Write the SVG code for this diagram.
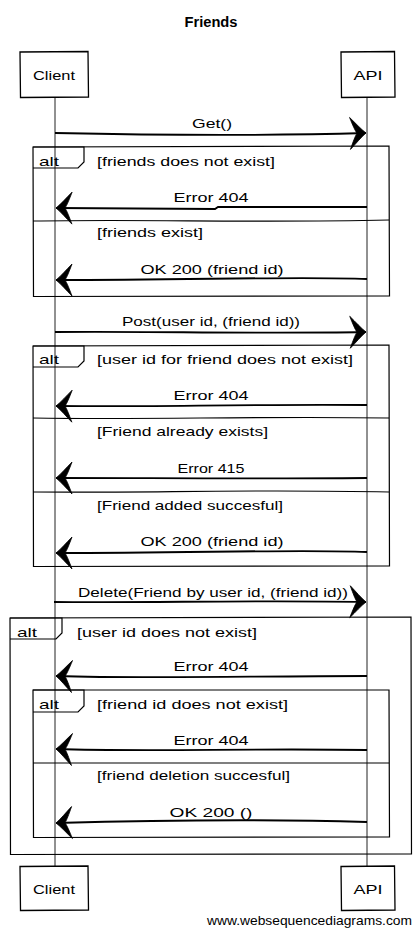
<svg xmlns="http://www.w3.org/2000/svg" width="420" height="934" viewBox="0 0 420 934">
<style>
.bg{fill:#fff}
.box{fill:#fff;stroke:#000;stroke-width:1.3}
.frame{fill:none;stroke:#000;stroke-width:1.2}
.life{stroke:#222;stroke-width:1}
.msg{fill:none;stroke:#000;stroke-width:1.8}
.t{font-family:"Liberation Sans",Arial,sans-serif;font-size:13px;fill:#000}
.c{text-anchor:middle}
.title{font-family:"Liberation Sans",Arial,sans-serif;font-size:14px;font-weight:bold;text-anchor:middle}
.wm{font-family:"Liberation Sans",Arial,sans-serif;font-size:13px;fill:#000}
</style>
<defs>
<marker id="ah" markerUnits="userSpaceOnUse" viewBox="-18 -17 19 34" markerWidth="19" markerHeight="34" refX="0" refY="0" orient="auto" overflow="visible">
<path d="M0,0 C-5,-4 -10,-10 -16,-16 C-13,-8 -11,-3 -9,0 C-11,3 -13,8 -16,16 C-10,10 -5,4 0,0 Z" fill="#000" stroke="#000" stroke-width="0.8"/>
</marker>
</defs>
<rect class="bg" x="0" y="0" width="420" height="934"/>
<text class="title" x="211" y="27" textLength="53" lengthAdjust="spacingAndGlyphs">Friends</text>

<g id="lifelines">
<line class="life" x1="55" y1="97" x2="55" y2="866"/>
<line class="life" x1="367" y1="97" x2="367" y2="866"/>
</g>

<g id="client-top">
<path class="box" d="M20,52 L88,51.5 L88.5,97 L20.5,97.5 Z"/>
<text class="t c" x="54" y="80" textLength="42" lengthAdjust="spacingAndGlyphs">Client</text>
</g>
<g id="api-top">
<path class="box" d="M341,52 L394.5,51.5 L395,97 L341.5,97.5 Z"/>
<text class="t c" x="368" y="80" textLength="29" lengthAdjust="spacingAndGlyphs">API</text>
</g>
<g id="client-bottom">
<path class="box" d="M20,866.5 L88,866 L88.5,910 L20.5,910.5 Z"/>
<text class="t c" x="54" y="894" textLength="42" lengthAdjust="spacingAndGlyphs">Client</text>
</g>
<g id="api-bottom">
<path class="box" d="M341,866.5 L394.5,866 L395,910 L341.5,910.5 Z"/>
<text class="t c" x="368" y="894" textLength="29" lengthAdjust="spacingAndGlyphs">API</text>
</g>

<g id="alt1">
<path class="frame" d="M33,147 L389,146 L389.5,296 L33.5,296.5 Z"/>
<path class="frame" d="M33,147 L84,147 L84,162 L78,168 L33,168"/>
<text class="t" x="39" y="166" textLength="20" lengthAdjust="spacingAndGlyphs">alt</text>
<text class="t" x="97" y="166" textLength="178" lengthAdjust="spacingAndGlyphs">[friends does not exist]</text>
<path class="frame" d="M33,221 C150,219 250,223 389,220"/>
<text class="t" x="97" y="237" textLength="106" lengthAdjust="spacingAndGlyphs">[friends exist]</text>
</g>

<g id="alt2">
<path class="frame" d="M33,346 L389,345 L389.5,566 L33.5,566.5 Z"/>
<path class="frame" d="M33,346 L84,346 L84,361 L78,367 L33,367"/>
<text class="t" x="39" y="364" textLength="20" lengthAdjust="spacingAndGlyphs">alt</text>
<text class="t" x="97" y="364" textLength="256" lengthAdjust="spacingAndGlyphs">[user id for friend does not exist]</text>
<path class="frame" d="M33,418 C150,420 250,416 389,418"/>
<text class="t" x="97" y="436" textLength="171" lengthAdjust="spacingAndGlyphs">[Friend already exists]</text>
<path class="frame" d="M33,492 C150,493 250,489 389,492"/>
<text class="t" x="97" y="510" textLength="186" lengthAdjust="spacingAndGlyphs">[Friend added succesful]</text>
</g>

<g id="alt3">
<path class="frame" d="M10,618 L411,617 L411.5,854 L10.5,854.5 Z"/>
<path class="frame" d="M10,618 L62,618 L62,633 L56,639 L10,639"/>
<text class="t" x="17" y="637" textLength="20" lengthAdjust="spacingAndGlyphs">alt</text>
<text class="t" x="77" y="637" textLength="180" lengthAdjust="spacingAndGlyphs">[user id does not exist]</text>
</g>

<g id="alt4">
<path class="frame" d="M33,690 L389,690 L389.5,837 L33.5,837.5 Z"/>
<path class="frame" d="M33,690 L84,690 L84,706 L78,712 L33,712"/>
<text class="t" x="39" y="709" textLength="20" lengthAdjust="spacingAndGlyphs">alt</text>
<text class="t" x="97" y="709" textLength="191" lengthAdjust="spacingAndGlyphs">[friend id does not exist]</text>
<path class="frame" d="M33,763 L389,763"/>
<text class="t" x="97" y="780" textLength="193" lengthAdjust="spacingAndGlyphs">[friend deletion succesful]</text>
</g>

<g id="connectors">
<path class="msg" marker-end="url(#ah)" d="M55,133 C150,135 260,136 366,133"/>
<text class="t c" x="212" y="128" textLength="40" lengthAdjust="spacingAndGlyphs">Get()</text>

<path class="msg" marker-end="url(#ah)" d="M367,207 L218,207 L215,209 L56,208"/>
<text class="t c" x="211" y="202" textLength="75" lengthAdjust="spacingAndGlyphs">Error 404</text>

<path class="msg" marker-end="url(#ah)" d="M367,279 C300,276 200,280 56,280"/>
<text class="t c" x="212" y="274" textLength="143" lengthAdjust="spacingAndGlyphs">OK 200 (friend id)</text>

<path class="msg" marker-end="url(#ah)" d="M55,332 C150,331 250,334 366,332"/>
<text class="t c" x="211" y="326" textLength="178" lengthAdjust="spacingAndGlyphs">Post(user id, (friend id))</text>

<path class="msg" marker-end="url(#ah)" d="M367,405 C250,404 150,407 56,406"/>
<text class="t c" x="211" y="400" textLength="75" lengthAdjust="spacingAndGlyphs">Error 404</text>

<path class="msg" marker-end="url(#ah)" d="M367,478 C250,479 150,478 56,478"/>
<text class="t c" x="211" y="473" textLength="67" lengthAdjust="spacingAndGlyphs">Error 415</text>

<path class="msg" marker-end="url(#ah)" d="M367,552 C300,549 200,553 56,553"/>
<text class="t c" x="212" y="546" textLength="143" lengthAdjust="spacingAndGlyphs">OK 200 (friend id)</text>

<path class="msg" marker-end="url(#ah)" d="M54,602 C150,603 250,600 366,602"/>
<text class="t c" x="213" y="597" textLength="270" lengthAdjust="spacingAndGlyphs">Delete(Friend by user id, (friend id))</text>

<path class="msg" marker-end="url(#ah)" d="M367,676 C250,676 150,679 56,676"/>
<text class="t c" x="211" y="671" textLength="75" lengthAdjust="spacingAndGlyphs">Error 404</text>

<path class="msg" marker-end="url(#ah)" d="M367,750 C250,748 150,752 56,749"/>
<text class="t c" x="211" y="745" textLength="75" lengthAdjust="spacingAndGlyphs">Error 404</text>

<path class="msg" marker-end="url(#ah)" d="M367,822 C300,820 200,819 56,823"/>
<text class="t c" x="211" y="817" textLength="83" lengthAdjust="spacingAndGlyphs">OK 200 ()</text>
</g>

<text class="wm" x="207" y="925" textLength="205" lengthAdjust="spacingAndGlyphs">www.websequencediagrams.com</text>
</svg>
